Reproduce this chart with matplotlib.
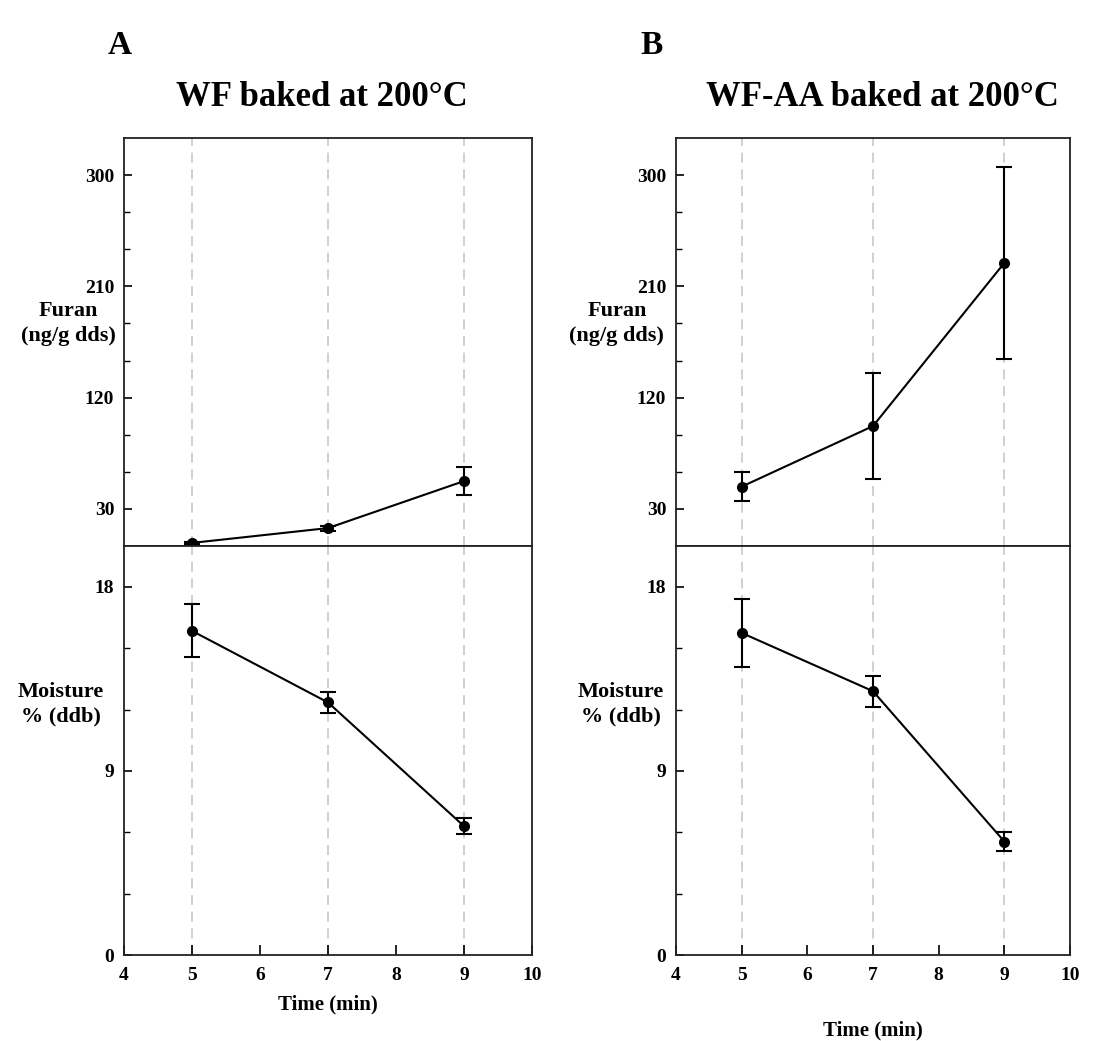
import numpy as np
import matplotlib
matplotlib.use("Agg")
import matplotlib.pyplot as plt
from matplotlib.ticker import MultipleLocator, FixedLocator

## data ##
time_min = [5, 7, 9]

# panel A: WF baked at 200 C
furan_wf = [2.5, 14.5, 52.5]
furan_wf_err = [1.0, 2.0, 11.5]
moist_wf = [15.85, 12.35, 6.3]
moist_wf_err = [1.3, 0.5, 0.38]

# panel B: WF-AA baked at 200 C
furan_aa = [48.0, 97.0, 229.0]
furan_aa_err = [11.5, 43.0, 77.5]
moist_aa = [15.75, 12.9, 5.55]
moist_aa_err = [1.65, 0.75, 0.47]

panel_letters = ["A", "B"]
panel_titles = ["WF baked at 200\u00b0C", "WF-AA baked at 200\u00b0C"]

plt.rcParams['font.family'] = ['Liberation Serif', 'DejaVu Serif']
plt.rcParams['font.weight'] = 'bold'

fig = plt.figure(figsize=(11.01, 10.41), dpi=100)

W, H = 1101.0, 1041.0
def box(x0, x1, ytop, ybot):
    return [x0 / W, 1 - ybot / H, (x1 - x0) / W, (ybot - ytop) / H]

panels = [
    dict(x0=124, x1=532, furan=furan_wf, ferr=furan_wf_err, moist=moist_wf, merr=moist_wf_err,
         ylab_x=-0.137, mlab_x=-0.155, xlab_y=-0.12, title_x=322, letter_x=120),
    dict(x0=676, x1=1070, furan=furan_aa, ferr=furan_aa_err, moist=moist_aa, merr=moist_aa_err,
         ylab_x=-0.15, mlab_x=-0.14, xlab_y=-0.185, title_x=882, letter_x=652),
]

for k, p in enumerate(panels):
    ax_top = fig.add_axes(box(p['x0'], p['x1'], 138, 546))
    ax_bot = fig.add_axes(box(p['x0'], p['x1'], 546, 955))

    for ax in (ax_top, ax_bot):
        ax.set_xlim(4, 10)
        for xv in time_min:
            ax.axvline(xv, color='#c8c8c8', lw=1.2, dashes=(6, 4), zorder=0)
        for s in ax.spines.values():
            s.set_linewidth(1.3)
            s.set_color('#222222')
        ax.tick_params(axis='y', which='major', direction='in', length=6, width=1.2,
                       labelsize=14, right=False, pad=7)
        ax.tick_params(axis='y', which='minor', direction='in', length=4, width=1.0, right=False)

    # furan
    ax_top.errorbar(time_min, p['furan'], yerr=p['ferr'], color='black', lw=1.5,
                    marker='o', ms=7, capsize=6, elinewidth=1.5, capthick=1.5)
    ax_top.set_ylim(0, 330)
    ax_top.yaxis.set_major_locator(FixedLocator([30, 120, 210, 300]))
    ax_top.yaxis.set_minor_locator(FixedLocator([60, 90, 150, 180, 240, 270]))
    ax_top.tick_params(axis='x', which='both', bottom=False, top=False, labelbottom=False)
    ax_top.set_ylabel("Furan\n(ng/g dds)", rotation=0, fontsize=16, fontweight='bold',
                      ha='center', va='center', linespacing=1.3)
    ax_top.yaxis.set_label_coords(p['ylab_x'], 0.545)

    # moisture
    ax_bot.errorbar(time_min, p['moist'], yerr=p['merr'], color='black', lw=1.5,
                    marker='o', ms=7, capsize=6, elinewidth=1.5, capthick=1.5)
    ax_bot.set_ylim(0, 20)
    ax_bot.yaxis.set_major_locator(MultipleLocator(9))
    ax_bot.yaxis.set_minor_locator(MultipleLocator(3))
    ax_bot.xaxis.set_major_locator(MultipleLocator(1))
    ax_bot.tick_params(axis='x', which='major', direction='in', length=7, width=1.2,
                       labelsize=14, top=False, pad=9)
    ax_bot.set_ylabel("Moisture\n% (ddb)", rotation=0, fontsize=16, fontweight='bold',
                      ha='center', va='center', linespacing=1.3)
    ax_bot.yaxis.set_label_coords(p['mlab_x'], 0.612)
    ax_bot.set_xlabel("Time (min)", fontsize=15, fontweight='bold', va='center')
    ax_bot.xaxis.set_label_coords(0.5, p['xlab_y'])

    fig.text(p['title_x'] / W, 1 - 97 / H, panel_titles[k], fontsize=25, fontweight='bold',
             ha='center', va='center')
    fig.text(p['letter_x'] / W, 1 - 46 / H, panel_letters[k], fontsize=24, fontweight='bold',
             ha='center', va='center')

fig.savefig("out.png", dpi=100)
